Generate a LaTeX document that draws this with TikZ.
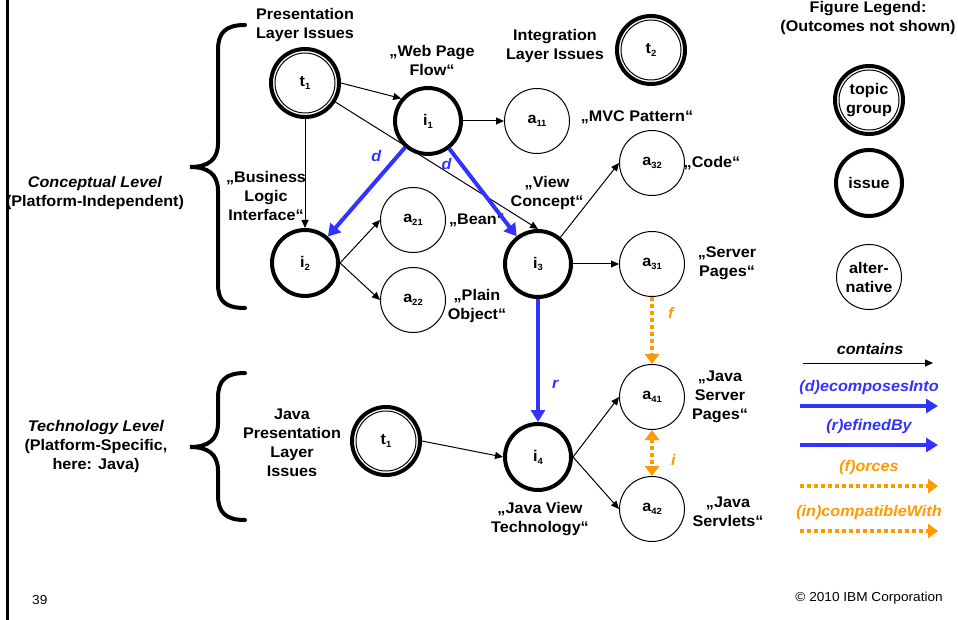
\documentclass[tikz,border=0pt]{standalone}
\usepackage{fontspec}
\setmainfont[FakeStretch=1.05]{Liberation Sans}
\usetikzlibrary{arrows.meta}
\definecolor{myblue}{RGB}{51,51,255}
\definecolor{myorange}{RGB}{255,153,0}
\newcommand\subx[1]{\raisebox{-0.35ex}{\fontsize{9}{9}\selectfont #1}}
\begin{document}
\begin{tikzpicture}[x=1pt,y=-1pt,
  font=\fontsize{15.4}{19}\selectfont\bfseries,
  every node/.style={inner sep=0pt},
  base/.style={circle, draw, align=center, inner sep=0pt},
  topic/.style={base, line width=4pt, minimum size=68pt,
    path picture={\draw[line width=1pt] (path picture bounding box.center) circle (30pt);}},
  issue/.style={base, line width=4pt, minimum size=66pt},
  alt/.style={base, line width=1pt, minimum size=65pt},
  lbl/.style={align=center},
  contains/.style={line width=1pt, -{Triangle[length=8pt,width=7pt]}},
  decomp/.style={myblue, line width=4pt, -{Triangle[length=12pt,width=14pt]}},
  forces/.style={myorange, line width=4pt, dash pattern=on 4pt off 3pt, -{Triangle[length=10pt,width=14pt]}},
  incomp/.style={myorange, line width=4pt, dash pattern=on 4pt off 3pt, {Triangle[length=10pt,width=14pt]}-{Triangle[length=10pt,width=14pt]}},
  brace/.style={line width=4pt, line cap=round},
  bluelbl/.style={text=myblue, font=\fontsize{15.4}{19}\selectfont\bfseries\itshape},
  orangelbl/.style={text=myorange, font=\fontsize{15.4}{19}\selectfont\bfseries\itshape},
  foot/.style={font=\fontsize{13}{14}\selectfont},
]
\useasboundingbox (0,0) rectangle (958,620);

% left margin line
\draw[line width=3pt] (7,0) -- (7,620);

% braces
\draw[brace] (245,25) .. controls (225,25) and (218,33) .. (218,50) -- (218,143)
  .. controls (218,160) and (208,167) .. (190,167)
  .. controls (208,167) and (218,174) .. (218,191) -- (218,284)
  .. controls (218,301) and (225,308) .. (245,308);
\draw[brace] (245,373) .. controls (225,373) and (218,381) .. (218,398) -- (218,423)
  .. controls (218,440) and (208,447) .. (190,447)
  .. controls (208,447) and (218,454) .. (218,471) -- (218,495)
  .. controls (218,512) and (225,520) .. (245,520);

% nodes
\node[topic] (t1) at (305,83) {t\subx{1}};
\node[issue] (i1) at (428,121) {i\subx{1}};
\node[alt] (a11) at (537,121) {a\subx{11}};
\node[topic] (t2) at (651,50) {t\subx{2}};
\node[alt] (a32) at (652,163) {a\subx{32}};
\node[alt] (a31) at (652,264) {a\subx{31}};
\node[issue] (i3) at (538,264) {i\subx{3}};
\node[alt] (a21) at (413,220) {a\subx{21}};
\node[alt] (a22) at (413,300) {a\subx{22}};
\node[issue] (i2) at (305,263) {i\subx{2}};
\node[topic] (t1b) at (386,441) {t\subx{1}};
\node[issue] (i4) at (538,457) {i\subx{4}};
\node[alt] (a41) at (652,397) {a\subx{41}};
\node[alt] (a42) at (652,509) {a\subx{42}};

% legend circles
\node[topic] (lt) at (869,100) {topic\\group};
\node[issue] (li) at (869,183) {issue};
\node[alt] (la) at (869,277) {alter-\\native};

% labels
\node[lbl] (lpres) at (305,25) {Presentation\\Layer Issues};
\node[lbl] (lweb) at (432,60) {„Web Page\\Flow“};
\node[lbl] (lint) at (555,46) {Integration\\Layer Issues};
\node (lmvc) at (637,117) {„MVC Pattern“};
\node (lcode) at (712,163) {„Code“};
\node[lbl] (lview) at (547,193) {„View\\Concept“};
\node (lbean) at (477,220) {„Bean“};
\node[lbl] (lplain) at (477,306) {„Plain\\Object“};
\node[lbl] (lserver) at (727,263) {„Server\\Pages“};
\node[lbl] (lbiz) at (266,196) {„Business\\Logic\\Interface“};
\node[lbl] (lconc) at (95,193) {\textit{Conceptual Level}\\(Platform-Independent)};
\node[lbl] (ltech) at (96,447) {\textit{Technology Level}\\(Platform-Specific,\\here: Java)};
\node[lbl] (ljava) at (292,443) {Java\\Presentation\\Layer\\Issues};
\node[lbl] (ljvt) at (540,519) {„Java View\\Technology“};
\node[lbl] (ljsp) at (720,397) {„Java\\Server\\Pages“};
\node[lbl] (ljs) at (728,512) {„Java\\Servlets“};
\node[lbl] (lleg) at (868,18) {Figure Legend:\\(Outcomes not shown)};

% connectors
\draw[contains] (t1.east) -- (i1.140);
\draw[contains] (t1) -- (i3.north);
\draw[contains] (t1) -- (i2);
\draw[contains] (i1) -- (a11);
\draw[contains] (i2.east) -- (a21.west);
\draw[contains] (i2.east) -- (a22.west);
\draw[contains] (i3.50) -- (a32.west);
\draw[contains] (i3) -- (a31);
\draw[contains] (t1b.east) -- (i4.west);
\draw[contains] (i4.east) -- (a41.west);
\draw[contains] (i4.east) -- (a42.west);
\draw[decomp] (i1) -- (i2) node[bluelbl, pos=0.1, left=14pt] {d};
\draw[decomp] (i1) -- (i3) node[bluelbl, pos=0.18, left=8pt] {d};
\draw[decomp] (i3) -- (i4) node[bluelbl, pos=0.69, right=12pt] {r};
\draw[forces] (a31) -- (a41) node[orangelbl, pos=0.24, right=14pt] {f};
\draw[incomp] (a41) -- (a42) node[orangelbl, pos=0.66, right=17pt] {i};

% legend connectors
\coordinate (c1s) at (803,363); \coordinate (c1e) at (933,363);
\coordinate (c2s) at (800,406); \coordinate (c2e) at (938,406);
\coordinate (c3s) at (800,445); \coordinate (c3e) at (938,445);
\coordinate (c4s) at (800,486); \coordinate (c4e) at (938,486);
\coordinate (c5s) at (800,531); \coordinate (c5e) at (938,531);
\node[font=\fontsize{15.4}{19}\selectfont\bfseries\itshape] (lcon) at (870,349) {contains};
\draw[contains] (c1s) -- (c1e);
\node[bluelbl] (ldec) at (869,388) {(d)ecomposesInto};
\draw[decomp] (c2s) -- (c2e);
\node[bluelbl] (lref) at (869,427) {(r)efinedBy};
\draw[decomp] (c3s) -- (c3e);
\node[orangelbl] (lfor) at (869,468) {(f)orces};
\draw[forces] (c4s) -- (c4e);
\node[orangelbl] (linc) at (869,513) {(in)compatibleWith};
\draw[forces] (c5s) -- (c5e);

% footer
\node[foot, anchor=west] (pg) at (32,600) {39};
\node[foot, anchor=east] (copy) at (943,598) {© 2010 IBM Corporation};
\end{tikzpicture}
\end{document}
